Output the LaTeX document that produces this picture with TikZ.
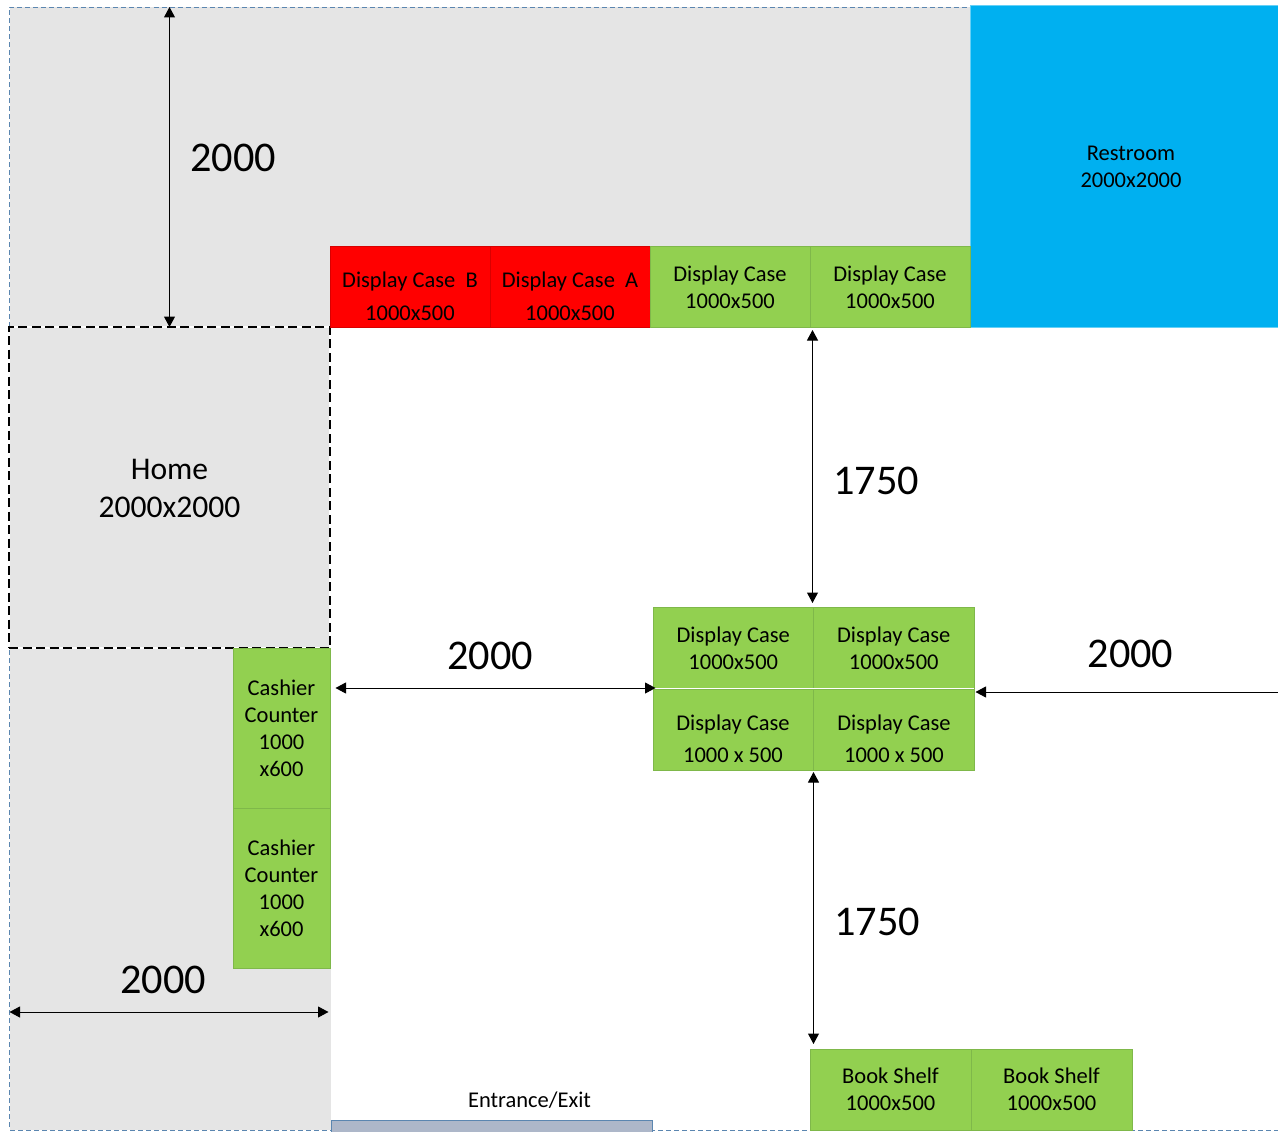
\documentclass[tikz,border=0pt]{standalone}
\usepackage{fontspec}
\setmainfont{Carlito}
\usetikzlibrary{arrows.meta}
\definecolor{zonegray}{HTML}{E5E5E5}
\definecolor{casegreen}{HTML}{92D050}
\definecolor{caseedge}{HTML}{7FB84A}
\definecolor{restblue}{HTML}{00B0F0}
\definecolor{outerblue}{HTML}{5B86B0}
\definecolor{doorfill}{HTML}{ADB7C9}
\tikzset{
  x=1pt,y=-1pt,
  box/.style={rectangle,inner sep=0pt,outer sep=0pt,align=center,line width=0.7pt,
    font=\fontsize{22.5}{27}\selectfont,text=black},
  greenbox/.style={box,fill=casegreen,draw=caseedge},
  redbox/.style={box,fill=red,draw=red!85!black},
  blocktext/.style={inner sep=0pt,outer sep=0pt,align=center,font=\fontsize{22.5}{27}\selectfont,text=black},
  dimtext/.style={inner sep=0pt,outer sep=0pt,font=\fontsize{42.3}{48}\selectfont,text=black},
  dim/.style={line width=1pt,black,{Triangle[length=10.5pt,width=11pt]}-{Triangle[length=10.5pt,width=11pt]}},
  dimone/.style={line width=1pt,black,-{Triangle[length=10.5pt,width=11pt]}},
}
\begin{document}
\begin{tikzpicture}
\useasboundingbox (0.5,0) rectangle (1278.5,1132);
% grey zones
\fill[zonegray] (10,7) rectangle (971,327);
\fill[zonegray] (10,327) rectangle (331,1130);
% outer dashed boundary
\draw[outerblue,line width=0.9pt,dash pattern=on 5pt off 3pt] (1279,1130) -- (10,1130) -- (10,7) -- (971,7);
% restroom
\node[box,fill=restblue,draw=restblue!60!white,line width=0.6pt,minimum width=308,minimum height=321.5] (rest) at (1125,166.25) {};
\fill[restblue] (972,7) rectangle (1279,327);
\node[blocktext] (restt) at (1131.5,167) {Restroom\\2000x2000};
% home
\node[rectangle,inner sep=0pt,outer sep=0pt,minimum width=321,minimum height=321,draw=white,line width=1.2pt] (homew) at (170,487.5) {};
\node[rectangle,inner sep=0pt,outer sep=0pt,minimum width=321,minimum height=321,draw=black,line width=2.2pt,dash pattern=on 9pt off 4.5pt] (home) at (170,487.5) {};
\node[inner sep=0pt,outer sep=0pt,align=center,font=\fontsize{31.6}{38}\selectfont,text=black] (homet) at (170,488.5) {Home\\2000x2000};
% top row
\node[redbox,minimum width=160,minimum height=81] (ra) at (410.5,287) {};
\node[redbox,minimum width=160,minimum height=81] (rb) at (570.5,287) {};
\node[blocktext,text depth=0pt] (rat) at (410.5,296.5) {Display Case\ \ B\\[6pt]1000x500};
\node[blocktext,text depth=0pt] (rbt) at (570.5,296.5) {Display Case\ \ A\\[6pt]1000x500};
\node[greenbox,minimum width=160,minimum height=81] (ga) at (730.5,287) {Display Case\\1000x500};
\node[greenbox,minimum width=160,minimum height=81] (gb) at (890.5,287) {Display Case\\1000x500};
% middle block
\node[greenbox,minimum width=160.5,minimum height=81] (ma) at (733.75,648) {Display Case\\1000x500};
\node[greenbox,minimum width=160.5,minimum height=81] (mb) at (894.25,648) {Display Case\\1000x500};
\node[greenbox,minimum width=160.5,minimum height=81] (mc) at (733.75,729.5) {};
\node[greenbox,minimum width=160.5,minimum height=81] (md) at (894.25,729.5) {};
\node[blocktext] (mct) at (733.5,739) {Display Case\\[5pt]1000 x 500};
\node[blocktext] (mdt) at (894.5,739) {Display Case\\[5pt]1000 x 500};
\draw[white,line width=0.9pt] ([yshift=0.2pt]mc.north west) -- ([yshift=0.2pt]md.north east);
% cashier
\node[greenbox,minimum width=97,minimum height=160] (ca) at (282,728) {Cashier\\Counter\\1000\\x600};
\node[greenbox,minimum width=97,minimum height=160] (cb) at (282,888) {Cashier\\Counter\\1000\\x600};
% book shelves
\node[greenbox,minimum width=161,minimum height=81] (ba) at (891,1089.5) {Book Shelf\\1000x500};
\node[greenbox,minimum width=161,minimum height=81] (bb) at (1052,1089.5) {Book Shelf\\1000x500};
% entrance
\node[rectangle,inner sep=0pt,outer sep=0pt,fill=doorfill,draw=outerblue,line width=1pt,minimum width=321,minimum height=24] (door) at (492,1132) {};
\node[blocktext] (doort) at (530,1100) {Entrance/Exit};
% named free ends
\coordinate (topa) at (170,7);
\coordinate (homeTop) at (170,327);
\coordinate (gaBottom) at (813,330);
\coordinate (maTop) at (813,603);
\coordinate (leftm) at (336,688);
\coordinate (rightm) at (656,688);
\coordinate (edgeR) at (1279,692);
\coordinate (mbR) at (976,692);
\coordinate (mdBottom) at (814,772);
\coordinate (baTop) at (814,1044);
\coordinate (edgeL) at (10,1012);
\coordinate (zoneR) at (329,1012);
% dimensions
\draw[dim] (topa) -- (homeTop);
\draw[dim] (gaBottom) -- (maTop);
\draw[dim] (leftm) -- (rightm);
\draw[dimone] (edgeR) -- (mbR);
\draw[dim] (mdBottom) -- (baTop);
\draw[dim] (edgeL) -- (zoneR);
\node[dimtext] (d1) at (233.5,158) {2000};
\node[dimtext] (d2) at (876.5,481) {1750};
\node[dimtext] (d3) at (490.5,656) {2000};
\node[dimtext] (d4) at (1131,654) {2000};
\node[dimtext] (d5) at (877.5,922) {1750};
\node[dimtext] (d6) at (163.5,980) {2000};
\end{tikzpicture}
\end{document}
